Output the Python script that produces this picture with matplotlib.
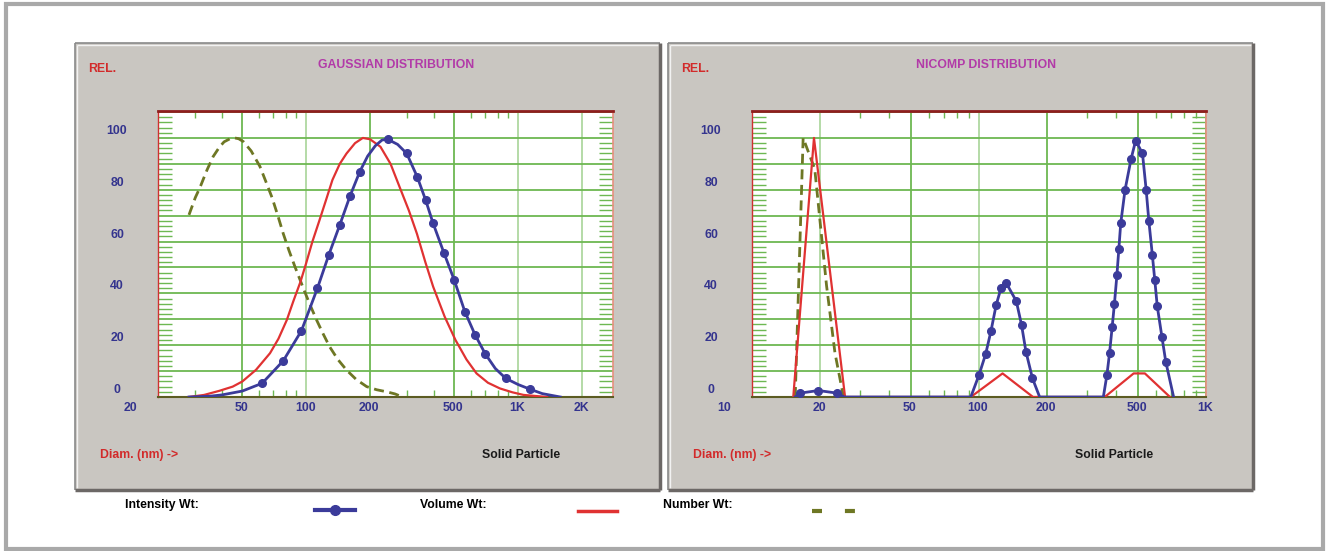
import matplotlib.pyplot as plt
import matplotlib.transforms as mtransforms
from matplotlib.lines import Line2D
from matplotlib.patches import Rectangle
from matplotlib.ticker import FixedLocator, LogLocator, MultipleLocator, NullFormatter

# === ДАННЫЕ ===

# левая панель: Gaussian distribution, диаметр в нм
gauss_int_d = [28, 35, 40, 50, 62, 78, 95, 113, 128, 144, 161, 179, 195, 212, 228,
               242, 270, 298, 334, 366, 397, 447, 500, 560, 626, 700, 780, 873,
               1000, 1138, 1300, 1580]
gauss_int_v = [0, 0.3, 0.8, 2.3, 5.3, 14, 25.6, 42, 55, 66.4, 77.6, 87, 93, 97, 99.2,
               99.5, 97.5, 94, 85, 76, 67, 55.5, 45, 33, 24, 16.6, 11, 7.2,
               4.8, 3, 1.3, 0]
# точки, отмеченные маркерами
gauss_int_marks = [4, 5, 6, 7, 8, 9, 10, 11, 15, 17, 18, 19, 20, 21, 22, 23, 24, 25, 27, 29]

gauss_vol_d = [28, 33, 39, 45, 50, 58, 67.5, 74, 81, 87, 94, 100, 107, 115.6, 124,
               133, 144, 155, 170, 185, 200, 224, 250, 276, 305, 333, 365, 397,
               450, 506, 570, 636, 720, 820, 940, 1060, 1370]
gauss_vol_v = [0, 0.8, 2.4, 4, 6, 10.5, 16.9, 22.5, 29.7, 37, 44.5, 51.7, 60, 68.3, 76,
               83.8, 90, 94, 98, 100, 99.5, 96.6, 90, 81, 72, 63, 52, 42.6,
               31, 22, 14.5, 9.1, 5.5, 3.3, 1.8, 0.8, 0]

gauss_num_d = [28, 30, 31.6, 34, 36.4, 39, 41, 44, 46, 48, 50.5, 55, 60.5, 65, 69,
               73.5, 78, 83, 88.5, 98, 105, 112, 120, 129, 141, 155, 172, 193,
               215, 240, 262, 285]
gauss_num_v = [70.3, 77, 81, 87.5, 92.8, 96.5, 98.5, 99.8, 100, 99.7, 98.6, 95, 89,
               82.5, 77, 70, 63, 56.5, 50.3, 41, 35, 29.7, 24.5, 19.4, 14.5, 10.4,
               6.8, 4, 2.8, 2, 1.2, 0]

# правая панель: NICOMP distribution
nicomp_int_d = [15.5, 16.3, 19.6, 23.7, 25.5,
                92, 100, 107, 113, 119, 125, 132, 146, 154, 161, 172, 185,
                353, 366, 376, 386, 395, 405, 413, 421, 440, 468, 490,
                525, 545, 560, 580, 595, 610, 640, 665, 720]
nicomp_int_v = [0, 1.5, 2.5, 1.5, 0,
                0, 8.5, 16.6, 25.6, 35.5, 42, 43.9, 37, 27.8, 17.5, 7.2, 0,
                0, 8.5, 17, 27, 36, 47, 57, 67, 80, 92, 99,
                94, 80, 68, 55, 45, 35, 23, 13.6, 0]

nicomp_vol_d = [15.2, 18.75, 25.7, 92, 127, 173, 358, 480, 538, 694]
nicomp_vol_v = [0, 100, 0, 0, 9.1, 0, 0, 9.1, 9.1, 0]

nicomp_num_d = [15.5, 16.8, 18.9, 21.3, 23.2, 25.3]
nicomp_num_v = [0, 100, 88, 43, 17, 0]

# подписи осей
y_ticks = [0, 20, 40, 60, 80, 100]
gauss_xticks = [20, 50, 100, 200, 500, 1000, 2000]
gauss_xlabels = ['20', '50', '100', '200', '500', '1K', '2K']
nicomp_xticks = [10, 20, 50, 100, 200, 500, 1000]
nicomp_xlabels = ['10', '20', '50', '100', '200', '500', '1K']

# === СТИЛЬ ===
W, H = 1327, 551
FONT = ['Liberation Sans', 'DejaVu Sans']
FS = 8.8
C_INT = '#3B3B9A'
C_VOL = '#E03232'
C_NUM = '#6E7724'
C_GRID = '#6DB852'
C_GRID_LIGHT = '#AFD8A0'
C_TICKTXT = '#34348E'
C_RED_TXT = '#D22A2A'
C_TITLE = '#B23AA8'
PANEL = '#C9C6C1'

plt.rcParams['font.family'] = FONT

fig = plt.figure(figsize=(W / 100, H / 100), dpi=100)
fig.patch.set_facecolor('white')


def fx(x):
    return x / W


def fy(y):
    return 1 - y / H


def frame_line(x0, y0, x1, y1, color, lw):
    fig.add_artist(Line2D([fx(x0), fx(x1)], [fy(y0), fy(y1)], color=color, lw=lw,
                          transform=fig.transFigure, solid_capstyle='butt', zorder=-5))


# внешняя рамка
fig.add_artist(Rectangle((fx(6), fy(549)), fx(1317), 545 / H, transform=fig.transFigure,
                         facecolor='white', edgecolor='#A9A9A9', lw=3, zorder=-10))


def panel(x0, x1, y0, y1):
    fig.add_artist(Rectangle((fx(x0), fy(y1)), fx(x1 - x0), (y1 - y0) / H,
                             transform=fig.transFigure, facecolor=PANEL, edgecolor='none',
                             zorder=-6))
    frame_line(x0, y0, x1, y0, '#8A8A8A', 1.2)
    frame_line(x0, y0, x0, y1, '#8A8A8A', 1.2)
    frame_line(x0 + 1.5, y0 + 1.5, x1 - 2, y0 + 1.5, '#F2F2F2', 1)
    frame_line(x0 + 1.5, y0 + 1.5, x0 + 1.5, y1 - 2, '#F2F2F2', 1)
    frame_line(x0, y1, x1, y1, '#6C6866', 2.5)
    frame_line(x1, y0, x1, y1, '#6C6866', 2.5)


panel(75, 660, 43, 490)
panel(668, 1253, 43, 490)


def setup_axes(ax, xlim, xticks, xlabels, light):
    ax.set_facecolor('white')
    ax.set_xscale('log')
    ax.set_xlim(*xlim)
    ax.set_ylim(0, 110.4)
    ax.xaxis.set_major_locator(FixedLocator(xticks))
    ax.xaxis.set_major_formatter(NullFormatter())
    ax.xaxis.set_minor_locator(LogLocator(base=10, subs=range(2, 10)))
    ax.xaxis.set_minor_formatter(NullFormatter())
    ax.yaxis.set_major_locator(MultipleLocator(10))
    ax.yaxis.set_major_formatter(NullFormatter())
    ax.yaxis.set_minor_locator(MultipleLocator(2))
    ax.tick_params(which='major', length=0)
    ax.tick_params(which='minor', axis='x', direction='in', length=5, width=1,
                   color=C_GRID, top=True, bottom=True)
    ax.tick_params(which='minor', axis='y', direction='in', length=10, width=1,
                   color=C_GRID, left=True, right=True)
    ax.grid(axis='y', which='major', color=C_GRID, lw=1.3)
    for v in xticks[1:]:
        ax.axvline(v, color=C_GRID_LIGHT if v in light else C_GRID, lw=1.3, zorder=0.5)
    ax.spines['top'].set_color('#8E1E1E')
    ax.spines['top'].set_linewidth(2)
    ax.spines['left'].set_color('#D03030')
    ax.spines['left'].set_linewidth(1)
    ax.spines['right'].set_color('#E89080')
    ax.spines['right'].set_linewidth(1.2)
    ax.spines['bottom'].set_color('#5C5C22')
    ax.spines['bottom'].set_linewidth(1.5)

    # подписи делений y: слева от оси, чуть выше линий сетки
    ytr = ax.get_yaxis_transform() + mtransforms.ScaledTranslation(-0.41, 0.07, fig.dpi_scale_trans)
    for v in y_ticks:
        ax.text(0, v, str(v), transform=ytr, ha='center', va='center', fontsize=FS,
                fontweight='bold', color=C_TICKTXT, clip_on=False)
    # подписи делений x
    for i, (v, lab) in enumerate(zip(xticks, xlabels)):
        dx = -0.28 if i == 0 else -0.01
        xtr = ax.get_xaxis_transform() + mtransforms.ScaledTranslation(dx, -0.11, fig.dpi_scale_trans)
        ax.text(v, 0, lab, transform=xtr, ha='center', va='center', fontsize=FS,
                fontweight='bold', color=C_TICKTXT, clip_on=False)


ax1 = fig.add_axes([fx(158), fy(397), fx(455), 286 / H])
ax2 = fig.add_axes([fx(752), fy(397), fx(454), 286 / H])
setup_axes(ax1, (20, 2800), gauss_xticks, gauss_xlabels, light=[100, 1000, 2000])
setup_axes(ax2, (10, 1000), nicomp_xticks, nicomp_xlabels, light=[20, 100])

# === КРИВЫЕ ===
ax1.plot(gauss_num_d, gauss_num_v, color=C_NUM, lw=2, dashes=(3.6, 2), zorder=3)
ax1.plot(gauss_vol_d, gauss_vol_v, color=C_VOL, lw=1.6, zorder=4)
ax1.plot(gauss_int_d, gauss_int_v, color=C_INT, lw=2, marker='o', ms=5.5,
         markevery=gauss_int_marks, zorder=5)

nic_marks = [i for i, v in enumerate(nicomp_int_v) if v > 0]
ax2.plot(nicomp_num_d, nicomp_num_v, color=C_NUM, lw=2, dashes=(3.6, 2), zorder=3)
ax2.plot(nicomp_vol_d, nicomp_vol_v, color=C_VOL, lw=1.6, zorder=4)
ax2.plot(nicomp_int_d, nicomp_int_v, color=C_INT, lw=2, marker='o', ms=5.5,
         markevery=nic_marks, zorder=5)

# === ТЕКСТЫ ПАНЕЛЕЙ ===
for off, title in [(0, 'GAUSSIAN DISTRIBUTION'), (593, 'NICOMP DISTRIBUTION')]:
    fig.text(fx(88 + off), fy(69), 'REL.', color=C_RED_TXT, fontsize=FS, fontweight='bold',
             ha='left', va='center')
    fig.text(fx(396 + off - (3 if off else 0)), fy(65), title, color=C_TITLE, fontsize=FS,
             fontweight='bold', ha='center', va='center')
    fig.text(fx(100 + off), fy(455), 'Diam. (nm) ->', color=C_RED_TXT, fontsize=FS,
             fontweight='bold', ha='left', va='center')
    fig.text(fx(521 + off), fy(455), 'Solid Particle', color='#1A1A1A', fontsize=FS,
             fontweight='bold', ha='center', va='center')

# === ЛЕГЕНДА ===
fig.text(fx(125), fy(505), 'Intensity Wt:', fontsize=FS, fontweight='bold', ha='left', va='center')
fig.text(fx(420), fy(505), 'Volume Wt:', fontsize=FS, fontweight='bold', ha='left', va='center')
fig.text(fx(663), fy(505), 'Number Wt:', fontsize=FS, fontweight='bold', ha='left', va='center')
fig.add_artist(Line2D([fx(315), fx(335), fx(355)], [fy(510)] * 3, color=C_INT, lw=3,
                      marker='o', ms=7, markevery=[1], transform=fig.transFigure))
fig.add_artist(Line2D([fx(578), fx(617)], [fy(511)] * 2, color=C_VOL, lw=2.5,
                      transform=fig.transFigure))
fig.add_artist(Line2D([fx(812), fx(856)], [fy(511)] * 2, color=C_NUM, lw=3, dashes=(2.4, 5.5),
                      transform=fig.transFigure))

fig.savefig('out.png', dpi=100)
